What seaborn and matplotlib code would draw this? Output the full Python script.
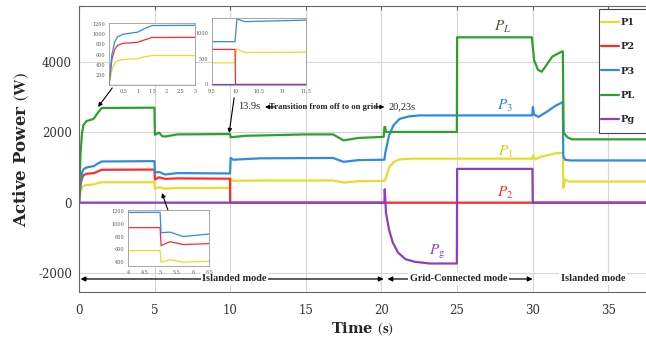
import seaborn as sns
import matplotlib.pyplot as plt
import pandas as pd
import numpy as np
from matplotlib.patches import Rectangle

sns.set_style("white")
plt.rcParams['font.family'] = ['DejaVu Serif']
plt.rcParams['mathtext.fontset'] = 'stix'
plt.rcParams['axes.unicode_minus'] = False

# Active power (W) against time (s)
t_p1 = [0, 0.1, 0.2, 0.3, 0.5, 1.0, 1.2, 1.5, 4.99, 5.02, 5.3, 5.7, 6.5, 9.99, 10.02,
        10.2, 12, 16.8, 17.5, 18.5, 20.2, 20.3, 20.5, 20.8, 21.2, 22, 29.98, 30.02,
        30.2, 30.5, 31, 31.5, 32.0, 32.03, 32.15, 32.4, 37.5]
p1 = [0, 300, 430, 480, 500, 520, 550, 580, 580, 400, 440, 400, 415, 420, 690,
      620, 630, 630, 570, 610, 620, 700, 1000, 1150, 1230, 1250, 1250, 1340,
      1230, 1300, 1350, 1400, 1420, 420, 650, 600, 600]

t_p2 = [0, 0.1, 0.2, 0.3, 0.5, 1.0, 1.2, 1.5, 4.99, 5.02, 5.3, 5.7, 6.5, 9.99, 10.0, 37.5]
p2 = [0, 500, 700, 780, 820, 840, 880, 935, 940, 660, 720, 675, 690, 680, 0, 0]

t_p3 = [0, 0.1, 0.2, 0.3, 0.5, 1.0, 1.2, 1.5, 4.99, 5.02, 5.3, 5.7, 6.5, 9.99, 10.03,
        10.2, 12, 16.8, 17.5, 18.5, 20.2, 20.25, 20.5, 20.8, 21.2, 21.8, 22.5, 29.97,
        30.02, 30.1, 30.4, 31.0, 31.5, 32.0, 32.03, 32.15, 32.5, 37.5]
p3 = [0, 600, 850, 950, 1000, 1040, 1100, 1170, 1180, 860, 870, 800, 840, 830, 1270,
      1220, 1260, 1270, 1160, 1210, 1220, 1400, 1900, 2200, 2380, 2450, 2480, 2480,
      2720, 2500, 2440, 2600, 2750, 2860, 1320, 1220, 1200, 1200]

t_pl = [0, 0.1, 0.2, 0.3, 0.5, 0.9, 1.0, 1.2, 1.5, 4.99, 5.02, 5.3, 5.5, 5.7, 6.5,
        9.99, 10.03, 10.3, 11, 15, 16.8, 17.5, 18.5, 20.15, 20.2, 20.25, 20.3,
        24.99, 25.01, 29.95, 30.1, 30.35, 30.6, 30.9, 31.3, 31.9, 32.0, 32.05,
        32.3, 32.6, 37.5]
pl = [0, 1400, 1980, 2210, 2320, 2370, 2400, 2530, 2690, 2700, 1930, 1990, 1890,
      1880, 1940, 1950, 1860, 1870, 1900, 1940, 1940, 1770, 1840, 1870, 2150,
      2150, 2010, 2010, 4700, 4700, 4050, 3780, 3720, 3900, 4150, 4290, 4300,
      1990, 1860, 1800, 1800]

t_pg = [0, 20.2, 20.22, 20.26, 20.3, 20.5, 20.75, 21.1, 21.6, 22.2, 23.2, 24.99,
        25.01, 29.99, 30.01, 37.5]
pg = [0, 0, 380, 100, -280, -760, -1130, -1420, -1610, -1680, -1730, -1730,
      960, 960, 0, 0]

series = ['P1', 'P2', 'P3', 'PL', 'Pg']
colors = ['#e2df2c', '#ff2b2b', '#2f8be0', '#2ea02e', '#8e3fbf']

frames = []
for name, t, p in zip(series, [t_p1, t_p2, t_p3, t_pl, t_pg], [p1, p2, p3, pl, pg]):
    frames.append(pd.DataFrame({'t': t, 'P': p, 'series': name}))
df = pd.concat(frames, ignore_index=True)
palette = dict(zip(series, colors))

fig = plt.figure(figsize=(6.46, 3.47), dpi=100)
ax = fig.add_axes([79 / 646, 1 - 292 / 347, 1 - 79 / 646, (292 - 6) / 347])

sns.lineplot(data=df, x='t', y='P', hue='series', palette=palette, estimator=None,
             sort=False, lw=1.6, ax=ax)

ax.set_xlim(0, 37.5)
ax.set_ylim(-2540, 5590)
ax.set_xticks([0, 5, 10, 15, 20, 25, 30, 35])
ax.set_yticks([-2000, 0, 2000, 4000])
ax.grid(True, color='#d6d6d6', lw=0.8)
ax.tick_params(direction='in', length=3, top=True, colors='#666', labelcolor='#333',
               labelsize=8.5)
ax.tick_params(axis='x', pad=9)
ax.tick_params(axis='y', pad=5)
for s in ['left', 'bottom', 'top']:
    ax.spines[s].set_color('#666')
    ax.spines[s].set_linewidth(0.8)
ax.spines['right'].set_visible(False)

ax.set_xlabel(r'Time $\left(\mathbf{s}\right)$', fontsize=10.5, fontweight='bold', labelpad=2)
ax.set_ylabel(r'Active Power $\left(\mathbf{W}\right)$', fontsize=12, fontweight='bold',
              labelpad=5)

# legend: frame drawn as a separate patch so the handles can sit close to its left edge
handles, labels = ax.get_legend_handles_labels()
leg = ax.legend(handles, labels, loc='upper left', bbox_to_anchor=(601 / 646, 1 - 18 / 347),
                bbox_transform=fig.transFigure, borderaxespad=0, frameon=False,
                prop={'weight': 'bold', 'size': 7}, labelspacing=1.58,
                handlelength=1.85, handletextpad=0.15, borderpad=0)
leg.set_zorder(6)
ax.add_patch(Rectangle((599 / 646, 1 - 133 / 347), 60 / 646, 124 / 347,
                       transform=fig.transFigure, facecolor='white',
                       edgecolor='#444', lw=0.8, zorder=5, clip_on=False))

# curve labels
ax.text(28.0, 5000, r'$P_L$', color='#3b5e2b', fontsize=11, ha='center', va='center')
ax.text(28.2, 2750, r'$P_3$', color='#2f80d0', fontsize=11, ha='center', va='center')
ax.text(28.2, 1450, r'$P_1$', color='#e8c41a', fontsize=11, ha='center', va='center')
ax.text(28.2, 280, r'$P_2$', color='#ff2b2b', fontsize=11, ha='center', va='center')
ax.text(23.7, -1400, r'$P_{\mathrm{g}}$', color='#8e3fbf', fontsize=11, ha='center', va='center')

# operating mode arrows
y_mode = -2170
arrow_kw = dict(arrowstyle='<|-|>', color='k', lw=0.9, mutation_scale=7, shrinkA=0, shrinkB=0)
ax.annotate('', xy=(0.1, y_mode), xytext=(20.15, y_mode), arrowprops=arrow_kw)
ax.annotate('', xy=(20.4, y_mode), xytext=(30.0, y_mode), arrowprops=arrow_kw)
ax.annotate('', xy=(37.6, y_mode), xytext=(30.1, y_mode),
            arrowprops=dict(arrowstyle='-|>', color='k', lw=0.9, mutation_scale=7,
                            shrinkA=0, shrinkB=0))
box = dict(facecolor='white', edgecolor='none', pad=1)
for x, txt in [(10.3, 'Islanded mode'), (25.1, 'Grid-Connected mode'), (34.0, 'Islanded mode')]:
    ax.text(x, y_mode, txt, ha='center', va='center', fontsize=7.4, fontweight='bold',
            bbox=box, family='Liberation Serif')

# transition annotation
ax.text(11.25, 2720, '13.9s', ha='center', va='center', fontsize=7.5, family='Liberation Serif')
ax.text(16.15, 2720, 'Transition from off to on grid', ha='center', va='center',
        fontsize=6.2, fontweight='bold', family='Liberation Serif')
ax.text(21.4, 2720, '20,23s', ha='center', va='center', fontsize=7.5, family='Liberation Serif')
small = dict(arrowstyle='-|>', color='k', lw=0.8, mutation_scale=6, shrinkA=0, shrinkB=0)
ax.annotate('', xy=(12.3, 2720), xytext=(12.95, 2720), arrowprops=small)
ax.annotate('', xy=(20.2, 2720), xytext=(19.6, 2720), arrowprops=small)
ax.annotate('', xy=(9.93, 1980), xytext=(10.26, 2980), arrowprops=small)
ax.annotate('', xy=(1.26, 2720), xytext=(2.2, 3260), arrowprops=small)
ax.annotate('', xy=(5.49, 275), xytext=(5.88, -210), arrowprops=small)


def inset(box_px, xlim, ylim, xticks, yticks, xticklabels=None):
    x0, y0, x1, y1 = box_px
    iax = fig.add_axes([x0 / 646, 1 - y1 / 347, (x1 - x0) / 646, (y1 - y0) / 347])
    iax.set_facecolor('white')
    sub = df[df['series'] != 'PL']
    sns.lineplot(data=sub, x='t', y='P', hue='series', palette=palette, estimator=None,
                 sort=False, lw=0.9, ax=iax, legend=False)
    iax.set_xlim(*xlim)
    iax.set_ylim(*ylim)
    iax.set_xticks(xticks)
    iax.set_yticks(yticks)
    if xticklabels is not None:
        iax.set_xticklabels(xticklabels)
    iax.set_xlabel('')
    iax.set_ylabel('')
    iax.tick_params(labelsize=3.5, length=1.5, pad=1.2, colors='#888', labelcolor='#555')
    for s in iax.spines.values():
        s.set_color('#999')
        s.set_linewidth(0.6)
    return iax


inset((109, 23, 195, 85), (0, 3), (0, 1220), [0.5, 1, 1.5, 2, 2.5, 3],
      [200, 400, 600, 800, 1000, 1200], ['0.5', '1', '1.5', '2', '2.5', '3'])
inset((212, 18, 306, 85), (9.5, 11.5), (-10, 1290), [9.5, 10, 10.5, 11, 11.5],
      [0, 500, 1000], ['9.5', '10', '10.5', '11', '11.5'])
inset((128, 210, 209, 266), (4, 6.5), (340, 1215), [4, 4.5, 5, 5.5, 6, 6.5],
      [400, 600, 800, 1000, 1200], ['4', '4.5', '5', '5.5', '6', '6.5'])

plt.savefig('out.png', dpi=100)
plt.close()
